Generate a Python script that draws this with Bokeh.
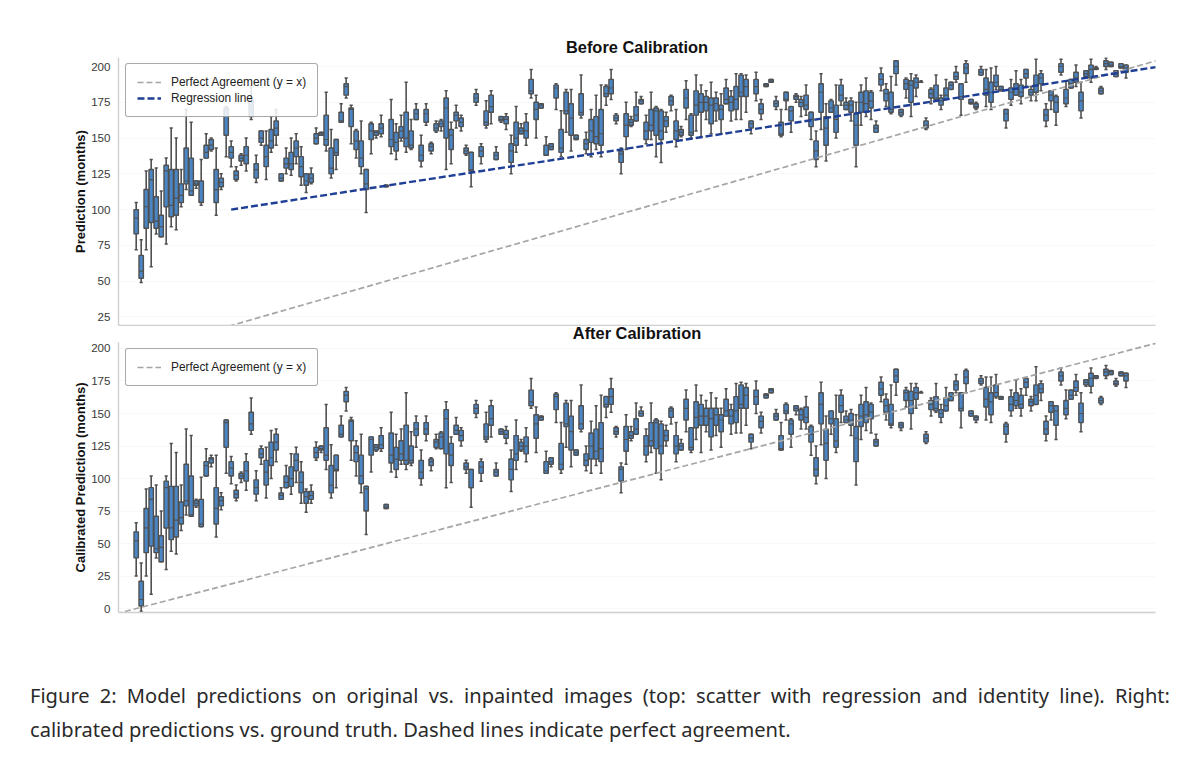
from bokeh.plotting import figure
from bokeh.models import Range1d, Legend, LegendItem, Div, ColumnDataSource, FixedTicker
from bokeh.layouts import column
from bokeh.embed import file_html
from bokeh.resources import INLINE

TITLE_TOP = "Before Calibration"
TITLE_BOTTOM = "After Calibration"
YLABEL_TOP = "Prediction (months)"
YLABEL_BOTTOM = "Calibrated Prediction (months)"
CAPTION = ("Figure 2: Model predictions on original vs. inpainted images (top: scatter with regression and "
           "identity line). Right: calibrated predictions vs. ground truth. Dashed lines indicate perfect agreement.")
TICKS_TOP = [25, 50, 75, 100, 125, 150, 175, 200]
TICKS_BOTTOM = [0, 25, 50, 75, 100, 125, 150, 175, 200]

t_lo = [72,49,72,60,83,81,76,88,86,102,
        114,110,115,103,136,141,96,114,137,130,
        120,131,127,163,119,145,121,140,145,120,
        125,124,132,117,112,118,146,152,141,122,
        128,161,178,146,136,125,98,139,150,151,
        116,139,135,148,140,142,163,130,159,139,
        154,155,128,132,157,155,138,116,173,132,
        157,160,135,161,156,125,140,153,145,178,
        150,171,138,142,170,137,154,141,149,164,
        139,137,142,137,173,177,160,125,142,158,
        162,174,146,149,137,133,154,169,144,151,
        163,150,155,151,163,153,162,153,174,162,
        163,163,168,153,176,163,186,189,170,151,
        170,154,175,165,166,149,130,156,134,168,
        150,173,170,162,130,159,165,163,154,183,
        172,167,187,165,178,165,179,189,156,174,
        176,170,177,184,189,166,189,174,170,194,
        172,170,184,183,157,173,180,174,186,176,
        176,183,158,170,159,194,172,185,186,164,
        193,189,198,181,198,200,193,199,192]
t_q1 = [83,52,87,91,87,81,102,95,96,105,
        118,110,117,105,136,142,105,116,152,136,
        121,134,132,165,122,147,130,143,152,120,
        129,128,137,123,117,119,146,152,145,125,
        138,161,180,158,142,130,114,149,152,153,
        116,144,141,150,144,143,163,134,161,141,
        155,158,150,142,162,158,139,127,175,137,
        159,168,135,162,160,133,145,153,150,181,
        163,171,138,142,178,140,167,152,149,166,
        142,147,146,145,179,181,162,133,151,159,
        162,174,149,155,152,149,158,173,149,152,
        171,152,166,168,169,160,169,163,174,169,
        170,179,179,157,181,167,186,189,172,152,
        176,162,177,172,170,158,135,168,145,168,
        154,176,170,168,145,168,168,171,154,187,
        176,168,195,166,184,175,185,189,157,178,
        177,173,177,184,191,177,195,174,171,194,
        180,175,186,183,162,177,180,179,192,180,
        182,188,162,176,168,196,174,185,189,169,
        193,192,198,181,200,200,193,199,196]
t_med = [94,57,102,121,92,88,127,103,108,110,
         120,113,118,105,140,145,114,119,170,140,
         124,136,138,170,128,150,137,148,157,122,
         132,132,143,130,120,122,150,153,149,129,
         140,162,186,170,148,136,118,155,154,157,
         117,149,147,155,150,145,167,138,167,144,
         157,160,171,152,166,161,141,128,178,141,
         161,172,138,163,163,141,150,155,155,183,
         170,173,138,144,185,143,169,164,150,168,
         146,155,151,153,181,185,164,139,159,161,
         166,176,155,159,169,155,162,176,155,154,
         178,154,173,175,175,173,174,170,177,175,
         177,182,186,160,186,170,187,190,174,153,
         177,169,179,175,173,163,141,182,157,171,
         163,180,173,173,159,175,174,176,157,191,
         181,170,200,168,188,187,189,189,159,181,
         178,176,180,187,193,179,199,175,172,196,
         184,182,189,184,167,182,184,182,195,182,
         187,192,166,180,175,200,178,188,192,176,
         195,198,199,183,202,201,195,200,199]
t_q3 = [100,68,114,128,109,96,131,128,128,118,
        143,136,120,120,145,149,128,122,171,144,
        127,138,144,177,132,155,145,156,162,125,
        136,140,148,137,125,125,153,154,166,143,
        149,168,188,171,155,148,128,160,155,160,
        117,163,154,158,168,155,170,145,170,146,
        160,162,178,156,168,164,143,140,181,144,
        169,180,140,165,165,146,161,157,161,191,
        175,174,145,146,187,156,182,174,152,181,
        149,163,165,170,186,191,166,141,167,163,
        172,177,161,170,171,169,165,179,162,156,
        184,166,183,181,179,178,178,173,185,179,
        186,194,191,162,191,174,188,191,176,161,
        182,172,180,177,180,168,148,188,165,176,
        173,187,175,176,167,182,183,182,159,195,
        184,182,204,170,191,190,192,189,162,184,
        187,178,185,189,196,188,202,177,174,198,
        192,189,194,186,170,185,188,187,198,184,
        194,195,170,183,179,202,184,191,196,182,
        197,201,199,185,204,203,197,202,201]
t_hi = [105,79,127,135,129,113,136,157,150,128,
        170,161,120,135,153,150,143,125,172,148,
        130,139,150,186,138,155,155,165,170,125,
        143,150,153,144,125,129,157,154,182,156,
        149,174,192,173,156,162,128,161,155,166,
        117,177,160,166,189,163,174,152,174,147,
        162,163,183,161,173,166,145,140,184,146,
        176,183,144,165,167,152,172,160,167,198,
        180,174,151,146,188,169,184,184,152,194,
        154,170,180,187,187,198,167,143,175,165,
        182,179,166,182,172,170,168,180,170,158,
        190,167,194,187,183,189,182,181,191,183,
        195,195,194,162,196,177,188,191,179,170,
        182,172,181,179,187,168,155,195,174,177,
        187,191,178,178,175,187,192,183,162,199,
        188,193,204,170,192,195,194,190,164,185,
        194,180,191,189,200,188,204,177,175,200,
        198,199,200,186,170,191,197,191,198,186,
        205,197,174,183,180,205,190,191,201,189,
        197,205,200,186,206,203,197,202,201]

c_lo = [25,-2,25,11,39,36,30,44,42,60,
        72,71,78,63,102,109,55,76,104,96,
        83,97,91,134,83,111,85,100,113,84,
        93,88,97,81,74,81,114,120,107,85,
        93,132,152,114,102,89,57,105,121,121,
        77,105,101,111,107,110,124,95,129,106,
        123,123,93,97,134,125,104,78,147,98,
        128,132,102,134,127,90,107,121,113,154,
        120,145,104,109,143,104,124,109,118,136,
        106,104,110,104,147,151,132,89,111,129,
        134,148,113,120,104,99,125,142,113,122,
        136,120,130,120,136,122,133,124,148,134,
        135,135,141,123,150,135,162,166,145,122,
        145,124,149,138,138,118,96,126,100,134,
        120,143,143,133,95,130,137,135,125,159,
        145,139,164,137,155,138,154,166,127,148,
        151,143,152,160,166,139,166,148,143,172,
        145,143,162,161,128,148,154,148,164,152,
        157,160,129,145,130,172,146,161,164,136,
        171,166,177,157,177,180,171,179,170]
c_q1 = [39,2,43,48,43,36,62,53,55,65,
        79,71,79,63,102,112,65,79,124,102,
        85,100,98,137,88,116,95,110,122,84,
        93,94,106,89,81,84,116,122,114,89,
        106,132,159,129,113,96,75,118,122,123,
        77,112,107,114,111,112,133,100,134,110,
        124,123,119,110,134,129,107,93,150,104,
        130,141,102,134,131,99,114,122,119,156,
        131,145,104,111,153,107,140,122,118,138,
        110,115,115,113,155,157,134,98,121,131,
        134,148,118,125,123,119,129,147,119,122,
        145,122,139,141,141,132,141,136,148,142,
        143,154,154,128,157,139,162,166,145,122,
        150,134,152,145,143,128,102,142,114,142,
        124,151,143,141,113,140,143,146,125,164,
        151,141,174,139,160,150,161,166,128,153,
        152,147,152,160,168,152,173,148,145,173,
        155,149,163,161,134,152,156,154,170,156,
        157,166,134,151,141,175,149,161,167,143,
        172,171,177,158,179,180,172,179,175]
c_med = [52,7,62,84,46,47,93,62,68,70,
         83,72,81,65,110,115,77,83,143,108,
         88,102,106,142,93,119,105,116,128,87,
         97,100,114,97,86,87,120,123,118,95,
         107,134,164,144,120,102,92,130,124,126,
         78,118,115,119,114,114,138,105,138,113,
         128,132,146,118,137,133,109,93,154,109,
         132,146,105,136,134,107,119,125,125,159,
         142,147,106,113,163,111,142,136,120,142,
         114,125,121,123,157,163,136,107,130,133,
         138,150,125,129,143,125,133,152,125,125,
         154,124,147,148,148,146,149,145,152,148,
         152,157,164,131,163,144,164,168,148,123,
         152,142,154,149,147,134,107,157,127,146,
         129,156,145,145,131,148,149,151,128,169,
         156,142,179,141,166,160,166,166,131,157,
         154,150,156,163,172,154,178,150,147,175,
         161,159,166,162,140,157,160,157,174,159,
         164,169,138,156,152,179,154,164,170,150,
         174,177,178,160,182,182,173,181,179]
c_q3 = [59,21,77,93,71,56,98,94,94,82,
        111,102,83,84,113,116,93,86,145,113,
        91,104,113,151,99,123,114,128,134,89,
        102,109,119,105,90,90,124,125,139,110,
        118,141,167,145,125,118,94,132,126,133,
        80,135,124,129,141,125,143,114,143,115,
        130,135,153,127,141,137,112,107,157,113,
        142,156,107,138,137,115,133,128,132,168,
        149,148,113,116,165,127,158,148,122,156,
        119,135,138,143,163,169,139,109,140,136,
        146,152,133,143,145,142,137,154,133,127,
        161,139,159,157,154,154,154,149,161,153,
        163,172,170,134,168,148,165,169,150,133,
        157,145,156,153,155,140,116,166,138,152,
        146,164,148,150,140,157,159,157,130,174,
        161,157,184,143,168,167,170,166,134,160,
        163,153,162,166,175,166,183,152,148,177,
        170,166,172,163,142,163,166,164,177,161,
        172,173,144,159,156,182,160,168,175,158,
        176,181,179,162,184,183,175,182,181]
c_hi = [66,35,92,102,95,75,102,127,120,95,
        138,133,84,101,123,118,118,89,145,117,
        95,105,119,162,106,125,124,137,138,93,
        110,119,124,113,92,95,128,125,157,126,
        118,148,170,147,129,134,94,132,126,139,
        80,151,134,138,166,136,148,122,148,116,
        134,136,159,132,147,139,114,107,160,115,
        151,160,112,138,140,122,145,130,139,177,
        155,148,121,116,166,143,160,160,122,172,
        125,144,156,164,163,177,140,112,149,140,
        158,155,138,158,146,144,141,155,143,130,
        168,139,172,164,160,166,162,154,169,157,
        173,174,173,134,175,151,165,169,153,143,
        158,146,156,154,163,141,125,174,148,152,
        164,168,152,153,149,164,170,158,134,178,
        165,172,184,143,170,173,173,167,136,162,
        173,157,170,166,180,166,184,152,148,179,
        178,178,180,163,143,168,176,169,177,163,
        186,175,148,159,156,185,168,168,180,166,
        176,185,179,163,187,183,177,182,181]

identity_x = [-4, 206]
identity_y = [-4, 206]
reg_x = [19, 204]
reg_y = [100, 199.6]

BOX = "#4a86c6"
EDGE = "#505050"
FONT = "Liberation Sans"
X_RANGE = (-3.54, 203.9)
BOX_W = 0.88
CAP_HALF = 0.32


def panel(lo, q1, med, q3, hi, title, ylabel, ticks, yr, h, top_border, bottom_border,
          legend_y, with_reg, margin, title_standoff):
    n = len(med)
    xs = list(range(n))
    src = ColumnDataSource(dict(
        x=xs, lo=lo, q1=q1, med=med, q3=q3, hi=hi,
        xl=[i - BOX_W / 2 for i in xs], xr=[i + BOX_W / 2 for i in xs],
        cl=[i - CAP_HALF for i in xs], cr=[i + CAP_HALF for i in xs],
    ))
    p = figure(width=1184, height=h, x_range=Range1d(*X_RANGE), y_range=Range1d(*yr),
               output_backend="svg", toolbar_location=None, margin=margin,
               min_border_left=110, min_border_right=37, min_border_top=top_border,
               min_border_bottom=bottom_border)
    p.outline_line_color = None
    p.background_fill_color = "white"
    p.border_fill_color = None
    p.title.text = title
    p.title.align = "center"
    p.title.text_font = FONT
    p.title.text_font_size = "16.4px"
    p.title.text_font_style = "bold"
    p.title.text_color = "#111111"
    p.title.standoff = title_standoff

    p.xgrid.visible = False
    p.ygrid.grid_line_color = "#f8f8f8"
    p.ygrid.ticker = FixedTicker(ticks=ticks)
    p.xaxis.ticker = FixedTicker(ticks=[])
    p.xaxis.major_tick_line_color = None
    p.xaxis.minor_tick_line_color = None
    p.xaxis.axis_line_color = "#cfcfcf"
    p.xaxis.axis_line_width = 1.4
    p.xaxis.major_label_text_font_size = "0px"

    ax = p.yaxis[0]
    ax.ticker = FixedTicker(ticks=ticks)
    ax.major_tick_line_color = None
    ax.minor_tick_line_color = None
    ax.major_tick_out = 0
    ax.major_tick_in = 0
    ax.axis_line_color = "#cfcfcf"
    ax.axis_line_width = 1.4
    ax.major_label_text_font = FONT
    ax.major_label_text_font_size = "11.6px"
    ax.major_label_text_color = "#3a3a3a"
    ax.major_label_standoff = 8
    ax.axis_label = ylabel
    ax.axis_label_text_font = FONT
    ax.axis_label_text_font_size = "13px"
    ax.axis_label_text_font_style = "bold"
    ax.axis_label_text_color = "#111111"
    ax.axis_label_standoff = 0

    p.segment("x", "lo", "x", "hi", source=src, line_color=EDGE, line_width=1.6)
    p.segment("cl", "lo", "cr", "lo", source=src, line_color=EDGE, line_width=1.5)
    p.segment("cl", "hi", "cr", "hi", source=src, line_color=EDGE, line_width=1.5)
    p.quad(left="xl", right="xr", bottom="q1", top="q3", source=src,
           fill_color=BOX, line_color=EDGE, line_width=1.4)
    p.segment("xl", "med", "xr", "med", source=src, line_color=EDGE, line_width=1.2)

    items = []
    r1 = p.line(identity_x, identity_y, line_color="#a5a5a5", line_width=1.7, line_dash="6 3")
    items.append(LegendItem(label="Perfect Agreement (y = x)", renderers=[r1]))
    if with_reg:
        r2 = p.line(reg_x, reg_y, line_color="#1f3f95", line_width=2.4, line_dash="7 3")
        items.append(LegendItem(label="Regression line", renderers=[r2]))

    lg = Legend(items=items, location=(7, legend_y), orientation="vertical",
                label_text_font=FONT, label_text_font_size="11.9px", label_text_color="#222222",
                glyph_width=24, glyph_height=14, label_standoff=10, spacing=2,
                padding=11, margin=0,
                background_fill_color="white", background_fill_alpha=0.85,
                border_line_color="#555555", border_line_width=1)
    if "border_radius" in Legend.properties():
        lg.border_radius = 3
    p.add_layout(lg, "center")
    return p


top = panel(t_lo, t_q1, t_med, t_q3, t_hi, TITLE_TOP, YLABEL_TOP, TICKS_TOP,
            (19.0, 206.3), 318, 49, 1, 208, True, (0, 0, 0, 0), 4)
bottom = panel(c_lo, c_q1, c_med, c_q3, c_hi, TITLE_BOTTOM, YLABEL_BOTTOM, TICKS_BOTTOM,
               (-3.0, 204.6), 302, 24, 8, 226, False, (-8, 0, 0, 0), 2)

cap = Div(text=CAPTION, width=1140, margin=(59, 0, 0, 22),
          styles={"font-family": "'Noto Sans'", "font-size": "20.1px", "line-height": "34px",
                  "color": "#2a2a2a", "text-align": "justify", "width": "1140px"})

page = column(top, bottom, cap, spacing=0, margin=(8, 0, 0, 8))
open("out.html", "w").write(file_html(page, INLINE))
